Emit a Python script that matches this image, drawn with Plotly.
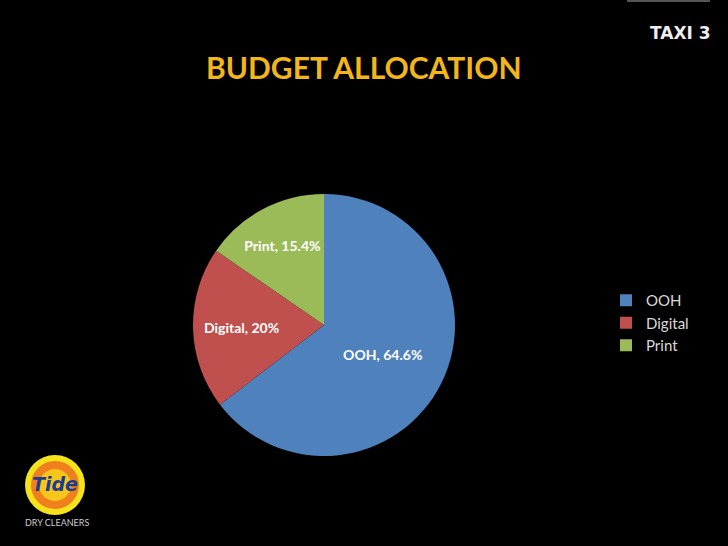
import plotly.graph_objects as go

categories = ["OOH", "Digital", "Print"]
shares = [64.6, 20.0, 15.4]
slice_colors = ["#4F81BD", "#C0504D", "#9BBB59"]

title_text = "BUDGET ALLOCATION"

W, H = 728, 546


def px(x):
    return x / W


def py(y):
    return 1 - y / H


fig = go.Figure(data=[
    go.Pie(
        labels=categories,
        values=shares,
        sort=False,
        direction="clockwise",
        rotation=0,
        marker=dict(colors=slice_colors, line=dict(width=0)),
        texttemplate="<b>%{label}, %{value}%</b>",
        textposition="inside",
        insidetextorientation="horizontal",
        textfont=dict(family="Lato, sans-serif", size=14, color="white"),
        domain=dict(x=[px(193), px(455)], y=[py(456), py(194)]),
        hoverinfo="label+percent",
    )
])

shapes = [
    dict(type="line", xref="paper", yref="paper", x0=px(627), x1=px(710), y0=py(1), y1=py(1),
         line=dict(color="#555555", width=2)),
    # rough Tide logo
    dict(type="circle", xref="paper", yref="paper", x0=px(25), x1=px(85), y0=py(515), y1=py(455),
         fillcolor="#F5E21A", line=dict(width=0)),
    dict(type="circle", xref="paper", yref="paper", x0=px(31), x1=px(79), y0=py(509), y1=py(461),
         fillcolor="#F07F1E", line=dict(width=0)),
    dict(type="circle", xref="paper", yref="paper", x0=px(39), x1=px(71), y0=py(501), y1=py(469),
         fillcolor="#F7C51C", line=dict(width=0)),
]

annotations = [
    dict(text="<b>" + title_text + "</b>", x=px(204), y=py(67), xanchor="left", yanchor="middle",
         showarrow=False, font=dict(family="Lato, sans-serif", size=30, color="#F2B51C")),
    dict(text="<b>TAXI 3</b>", x=px(713), y=py(33), xanchor="right", yanchor="middle",
         showarrow=False, font=dict(family="DejaVu Sans, sans-serif", size=17, color="#EEEEEE")),
    dict(text="<b><i>Tide</i></b>", x=px(55), y=py(484), xanchor="center", yanchor="middle",
         showarrow=False, font=dict(family="DejaVu Sans, sans-serif", size=19, color="#1B3C8F")),
    dict(text="DRY CLEANERS", x=px(57), y=py(522), xanchor="center", yanchor="middle",
         showarrow=False, font=dict(family="Lato, sans-serif", size=9, color="#CCCCCC")),
]

fig.update_layout(
    width=W,
    height=H,
    paper_bgcolor="black",
    plot_bgcolor="black",
    margin=dict(l=0, r=0, t=0, b=0),
    showlegend=True,
    legend=dict(
        x=px(606), y=py(284), xanchor="left", yanchor="top",
        font=dict(family="Lato, sans-serif", size=15, color="#D9D9D9"),
        bgcolor="rgba(0,0,0,0)",
        tracegroupgap=0,
    ),
    shapes=shapes,
    annotations=annotations,
)

fig.write_html(
    "out.html",
    config={"displayModeBar": False},
    post_script="document.body.style.margin='0';document.body.style.background='black';",
)
